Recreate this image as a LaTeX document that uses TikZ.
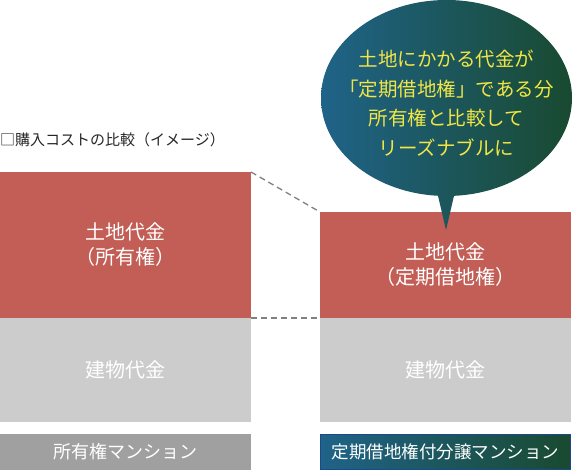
\documentclass[tikz,border=0pt]{standalone}
\usepackage{fontspec}
\newfontfamily\jpfont{Noto Sans CJK JP}
\usetikzlibrary{shapes.geometric}
\definecolor{landred}{RGB}{194, 94, 85}
\definecolor{bldggray}{RGB}{204, 204, 204}
\definecolor{labelgray}{RGB}{160, 160, 160}
\definecolor{leaseblue}{RGB}{31, 99, 136}
\definecolor{leasegreen}{RGB}{25, 74, 48}
\definecolor{frameblue}{RGB}{30, 72, 140}
\definecolor{msgyellow}{RGB}{240, 230, 70}

\begin{document}
\begin{tikzpicture}[x=1pt, y=-1pt, font=\jpfont,
    colbox/.style={minimum width=251pt, anchor=north west, outer sep=0pt, inner sep=0pt, text=white, align=center},
    landbox/.style={colbox, fill=landred, font=\jpfont\fontsize{20}{25}\selectfont},
    bldgbox/.style={colbox, fill=bldggray, minimum height=104pt, font=\jpfont\fontsize{20}{25}\selectfont},
    namebox/.style={colbox, minimum height=36pt, font=\jpfont\fontsize{18}{20}\selectfont}]
    \useasboundingbox (0,0) rectangle (575,473);

    % Title
    \node[anchor=west, inner sep=0pt, text=black!85, font=\jpfont\fontsize{15}{18}\selectfont] (title) at (0,140) {□購入コストの比較（イメージ）};

    % Ownership condominium
    \node[landbox, minimum height=146pt] (ownland) at (0,172) {土地代金\\（所有権）};
    \node[bldgbox] (ownbldg) at (0,318) {建物代金};
    \node[namebox, fill=labelgray] (ownname) at (0,434) {所有権マンション};

    % Fixed-term leasehold condominium
    \node[landbox, minimum height=106pt] (leaseland) at (320,212) {土地代金\\（定期借地権）};
    \node[bldgbox] (leasebldg) at (320,318) {建物代金};
    \node[namebox, draw=frameblue, line width=1pt, left color=leaseblue, right color=leasegreen, minimum width=250pt, minimum height=35pt, font=\jpfont\fontsize{17.5}{20}\selectfont] (leasename) at (320.5,434.5) {定期借地権付分譲マンション};

    % Comparison guides
    \draw[gray, line width=1.3pt, dash pattern=on 6pt off 4pt] (ownland.north east) -- (leaseland.north west);
    \draw[gray, line width=1.3pt, dash pattern=on 6pt off 4pt] (ownland.south east) -- (leaseland.south west);

    % Speech bubble
    \node[ellipse, inner sep=0pt, minimum width=251pt, minimum height=196pt, left color=leaseblue, right color=leasegreen] (bubble) at (446.5,98) {};
    \shade[left color=leaseblue!55!leasegreen, right color=leaseblue!45!leasegreen] (435,183) -- (457,183) -- (446,230) -- cycle;
    \node[text=msgyellow, align=center, font=\jpfont\fontsize{19.5}{29.5}\selectfont] (msg) at (446.5,103) {土地にかかる代金が\\「定期借地権」である分\\所有権と比較して\\リーズナブルに};
\end{tikzpicture}
\end{document}
